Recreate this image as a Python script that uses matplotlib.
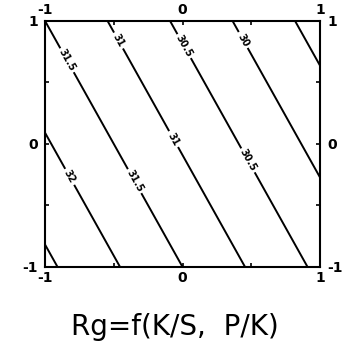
import matplotlib
matplotlib.use('Agg')
import matplotlib.pyplot as plt
import numpy as np

# coded factor ranges (K/S on x, P/K on y)
x_range = [-1, 1]
y_range = [-1, 1]
tick_values = [-1, 0, 1]
tick_labels = ['-1', '0', '1']

# linear response surface
b0 = 30.95
b_ks = -1.10
b_pk = -0.55

levels = [29.5, 30.0, 30.5, 31.0, 31.5, 32.0, 32.5]

# where the in-line labels sit (data coords)
label_spots = [(-0.84, 0.68), (-0.36, -0.31), (-0.45, 0.85), (-0.08, 0.03),
               (0.02, 0.80), (0.45, -0.15), (0.45, 0.85), (-0.84, -0.28)]


def main():
    fig = plt.figure(figsize=(3.49, 3.54), dpi=100)
    ax = fig.add_axes([0.129, 0.246, 0.788, 0.695])

    xg = np.linspace(x_range[0], x_range[1], 201)
    yg = np.linspace(y_range[0], y_range[1], 201)
    X, Y = np.meshgrid(xg, yg)
    Z = b0 + b_ks * X + b_pk * Y

    cs = ax.contour(X, Y, Z, levels=levels, colors='black', linewidths=1.4)
    cl = ax.clabel(cs, manual=label_spots, fmt='%g',
                   fontsize=7, inline=True, inline_spacing=3)
    for t in cl:
        t.set_fontweight('bold')

    ax.set_xlim(x_range)
    ax.set_ylim(y_range)
    ax.set_xticks(tick_values)
    ax.set_xticklabels(tick_labels)
    ax.set_yticks(tick_values)
    ax.set_yticklabels(tick_labels)
    ax.set_xticks([-0.5, 0.5], minor=True)
    ax.set_yticks([-0.5, 0.5], minor=True)
    ax.tick_params(which='both', direction='in', length=3, width=1.2,
                   top=True, right=True, labeltop=True, labelright=True,
                   labelsize=10)
    ax.tick_params(axis='x', pad=3)
    ax.tick_params(axis='y', pad=5)
    for lab in ax.get_xticklabels() + ax.get_yticklabels():
        lab.set_fontweight('bold')
    for sp in ax.spines.values():
        sp.set_linewidth(1.5)

    fig.text(0.5, 0.076, 'Rg=f(K/S,  P/K)', ha='center', va='center',
             fontsize=20, family='DejaVu Sans')

    plt.savefig('out.png', dpi=100)


if __name__ == '__main__':
    main()
